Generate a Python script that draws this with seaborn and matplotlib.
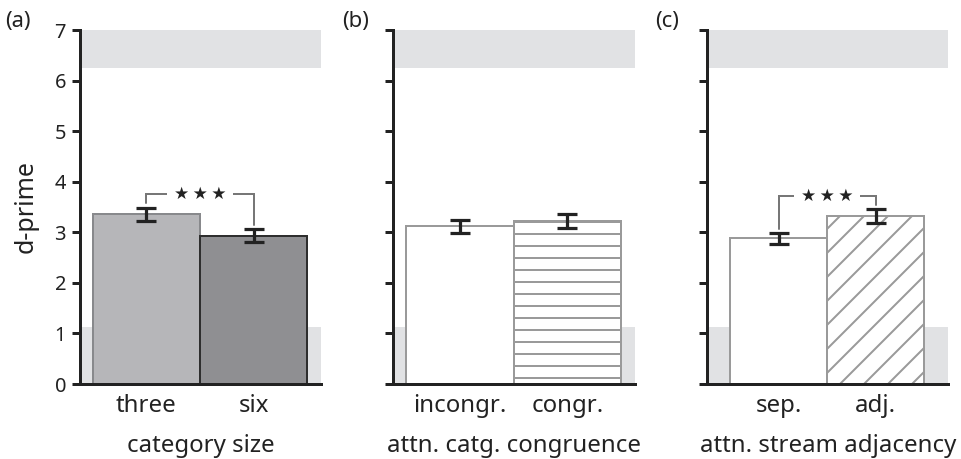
import numpy as np
import pandas as pd
import matplotlib
matplotlib.use("Agg")
import matplotlib.pyplot as plt
import seaborn as sns

# ---------------- data ----------------
cats_a = ["three", "six"]
vals_a = [3.36, 2.93]
err_a = [0.13, 0.13]

cats_b = ["incongr.", "congr."]
vals_b = [3.12, 3.22]
err_b = [0.13, 0.14]

cats_c = ["sep.", "adj."]
vals_c = [2.88, 3.32]
err_c = [0.105, 0.14]

xlabels = ["category size", "attn. catg. congruence", "attn. stream adjacency"]
panel_tags = ["(a)", "(b)", "(c)"]
sig_a = True
sig_b = False
sig_c = True

band_top = (6.25, 7.0)
band_bottom = (0.0, 1.13)
yticks = [0, 1, 2, 3, 4, 5, 6, 7]

# ---------------- style ----------------
sns.set_theme(style="white")
plt.rcParams["font.family"] = ["Noto Sans", "DejaVu Sans"]
plt.rcParams["hatch.linewidth"] = 1.0
plt.rcParams["text.color"] = "#222222"
plt.rcParams["axes.labelcolor"] = "#222222"
plt.rcParams["xtick.color"] = "#222222"
plt.rcParams["ytick.color"] = "#222222"

DPI = 144
fig = plt.figure(figsize=(961 / DPI, 459 / DPI), dpi=DPI)

W, H = 961.0, 459.0
bottom = 1 - 384 / H
height = (384 - 30) / H

panels = [
    dict(cats=cats_a, vals=vals_a, errs=err_a, left=80 / W, width=240.7 / W,
         xlim=(-0.62, 1.625), fills=["#b5b6b9", "#8e8f93"],
         edges=["#88898c", "#2e2e2e"], hatches=[None, None], sig=sig_a,
         tagx=5 / W),
    dict(cats=cats_b, vals=vals_b, errs=err_b, left=393.3 / W, width=241.7 / W,
         xlim=(-0.62, 1.63), fills=["#ffffff", "#ffffff"],
         edges=["#9a9a9a", "#9a9a9a"], hatches=[None, "--"], sig=sig_b,
         tagx=342 / W),
    dict(cats=cats_c, vals=vals_c, errs=err_c, left=707.3 / W, width=241 / W,
         xlim=(-0.734, 1.75), fills=["#ffffff", "#ffffff"],
         edges=["#9a9a9a", "#9a9a9a"], hatches=[None, "//"], sig=sig_c,
         tagx=655 / W),
]

for i, p in enumerate(panels):
    ax = fig.add_axes([p["left"], bottom, p["width"], height])
    df = pd.DataFrame({"cond": p["cats"], "dprime": p["vals"]})
    sns.barplot(data=df, x="cond", y="dprime", hue="cond",
                palette=p["fills"], width=1.0, errorbar=None, legend=False,
                ax=ax, zorder=2, linewidth=1.0)
    bars = list(ax.patches)
    for patch, ec, h in zip(bars, p["edges"], p["hatches"]):
        patch.set_edgecolor(ec)
        patch.set_linewidth(1.0)
        if h:
            patch.set_hatch(h)

    # grey bands
    ax.axhspan(*band_top, color="#e1e2e4", lw=0, zorder=0)
    ax.axhspan(*band_bottom, color="#e1e2e4", lw=0, zorder=0)

    xs = np.arange(len(p["cats"]))
    ax.errorbar(xs, p["vals"], yerr=p["errs"], fmt="none", ecolor="#222222",
                elinewidth=1.6, capsize=5, capthick=1.6, zorder=4)

    if p["sig"]:
        tops = np.array(p["vals"]) + np.array(p["errs"])
        level = tops.max() + 0.26
        ax.plot([xs[0], xs[0], xs[1], xs[1]],
                [tops[0] + 0.08, level, level, tops[1] + 0.08],
                color="#777777", lw=1.0, zorder=3, solid_joinstyle="miter")
        ax.text(xs.mean(), level, "\u2605\u2009\u2605\u2009\u2605",
                ha="center", va="center", fontsize=8.5,
                family=["DejaVu Sans"], color="#222222", zorder=5,
                bbox=dict(boxstyle="square,pad=0.4", fc="white", ec="none"))

    ax.set_xlim(*p["xlim"])
    ax.set_ylim(0, 7)
    ax.set_yticks(yticks)
    sns.despine(ax=ax)
    for s in ("left", "bottom"):
        ax.spines[s].set_linewidth(1.5)
        ax.spines[s].set_color("#222222")
    ax.tick_params(axis="y", length=4, width=1.5, labelsize=10, pad=3,
                   left=True)
    ax.tick_params(axis="x", length=0, labelsize=12, pad=5)
    ax.set_xlabel(xlabels[i], fontsize=12, labelpad=8)
    if i == 0:
        ax.set_ylabel("d-prime", fontsize=12.5)
        ax.yaxis.set_label_coords(-0.17, 0.5)
    else:
        ax.set_ylabel("")
        ax.tick_params(axis="y", labelleft=False)
    fig.text(p["tagx"], 1 - 11 / H, panel_tags[i], ha="left", va="top",
             fontsize=11)

fig.savefig("out.png", dpi=DPI)
